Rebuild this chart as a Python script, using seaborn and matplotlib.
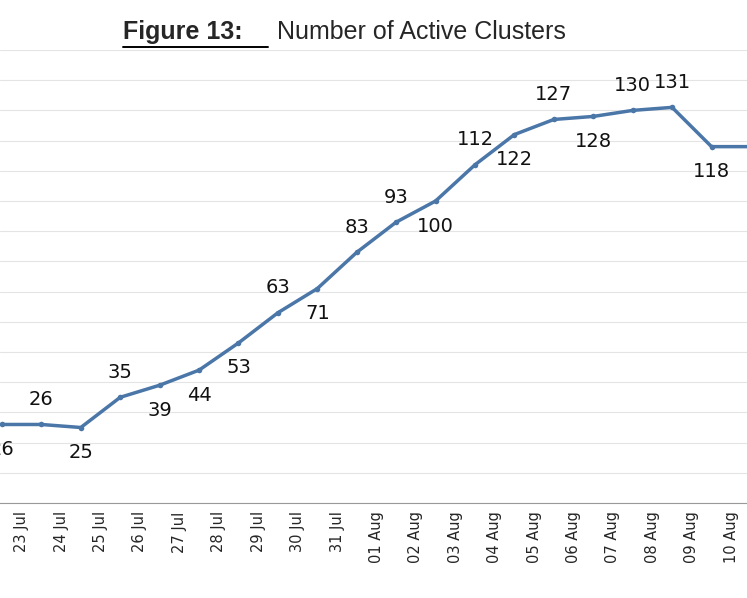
import matplotlib
matplotlib.use('Agg')
import matplotlib.pyplot as plt
import seaborn as sns
import pandas as pd

dates = ['22 Jul', '23 Jul', '24 Jul', '25 Jul', '26 Jul', '27 Jul', '28 Jul', '29 Jul',
         '30 Jul', '31 Jul', '01 Aug', '02 Aug', '03 Aug', '04 Aug', '05 Aug', '06 Aug',
         '07 Aug', '08 Aug', '09 Aug', '10 Aug', '11 Aug']
clusters = [26, 26, 25, 35, 39, 44, 53, 63, 71, 83, 93, 100, 112, 122, 127, 128, 130, 131, 118, 118, 118]
# label side: 1 above, -1 below
label_side = [-1, 1, -1, 1, -1, -1, -1, 1, -1, 1, 1, -1, 1, -1, 1, -1, 1, 1, -1, -1, -1]

df = pd.DataFrame({'x': range(len(dates)), 'clusters': clusters})

sns.set_style('white')
fig = plt.figure(figsize=(7.47, 5.98), dpi=100)
ax = fig.add_axes([0, 1 - 503 / 598, 1, (503 - 50) / 598])

sns.lineplot(data=df, x='x', y='clusters', ax=ax, color='#4a76a8', linewidth=2.5,
             marker='o', markersize=4, markeredgewidth=0)

for i, (v, s) in enumerate(zip(clusters, label_side)):
    ax.annotate(str(v), (i, v), xytext=(0, 18 * s), textcoords='offset points',
                ha='center', va='center', fontsize=14, family='DejaVu Sans', color='#111')

ax.set_xticks([i - 0.5 for i in range(1, len(dates))])
ax.set_xticklabels(dates[1:], rotation=90, fontsize=10.5, family='DejaVu Sans')
ax.set_yticks(range(0, 151, 10))
ax.set_yticklabels([])
ax.set_xlim(-0.05, 18.9)
ax.set_ylim(0, 150)
ax.yaxis.grid(True, color='#e4e4e4', linewidth=0.8)
ax.tick_params(axis='x', length=4, color='#999', pad=2)
ax.tick_params(axis='y', length=0)
ax.set_xlabel('')
ax.set_ylabel('')
for sp in ['top', 'left', 'right']:
    ax.spines[sp].set_visible(False)
ax.spines['bottom'].set_color('#999')

fig.text(123 / 747, 0.947, 'Figure 13:', fontsize=18, fontweight='bold',
         family='Liberation Sans', va='center')
fig.text(277 / 747, 0.947, 'Number of Active Clusters', fontsize=18,
         family='Liberation Sans', va='center')
fig.add_artist(plt.Line2D([123 / 747, 268 / 747], [0.921, 0.921], color='black', linewidth=1.4))

plt.savefig('out.png', dpi=100)
